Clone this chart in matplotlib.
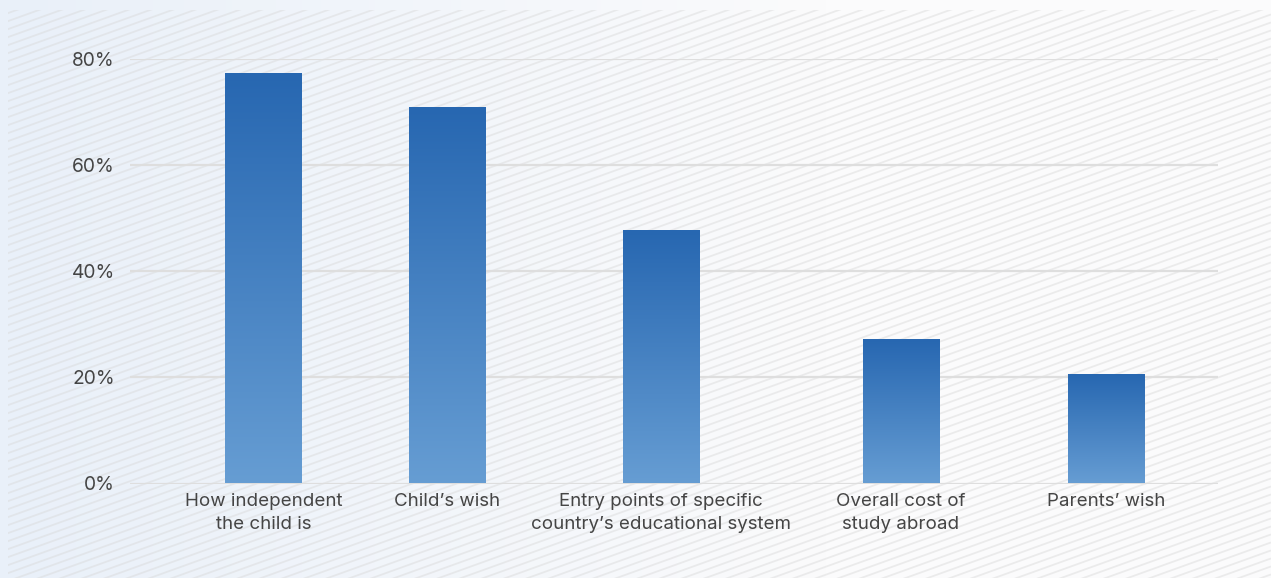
import numpy as np
import matplotlib.pyplot as plt
from matplotlib.colors import LinearSegmentedColormap
from matplotlib.patches import Rectangle

plt.rcParams['font.family'] = ['Inter', 'DejaVu Sans']

# Survey data
categories = [
    "How independent\nthe child is",
    "Child\u2019s wish",
    "Entry points of specific\ncountry\u2019s educational system",
    "Overall cost of\nstudy abroad",
    "Parents\u2019 wish",
]
values = [77.2, 70.8, 47.6, 27.0, 20.4]
y_ticks = [0, 20, 40, 60, 80]
y_tick_labels = ["0%", "20%", "40%", "60%", "80%"]

# Layout (x in axis units spanning the plotting width)
bar_centers = [133.5, 317.5, 531, 771, 976.5]
bar_width = 77
x_span = 1088

W, H = 1271, 578
fig = plt.figure(figsize=(W / 100, H / 100), dpi=100)

# Background: soft blue-to-white wash with fine diagonal stripes
bg = fig.add_axes([0, 0, 1, 1])
bg.axis('off')
xs = np.linspace(0, 1, 400)
grad = np.clip(xs / 0.65, 0, 1)
c0 = np.array([233, 240, 249]) / 255
c1 = np.array([251, 251, 252]) / 255
img = (c0[None, :] * (1 - grad[:, None]) + c1[None, :] * grad[:, None])[None, :, :]
bg.imshow(img, extent=[0, W, H, 0], aspect='auto', zorder=0)

clip = Rectangle((8, 10), W, H, transform=bg.transData, facecolor='none', edgecolor='none')
bg.add_patch(clip)
slope = 0.36
spacing = 8.0
for b in np.arange(-slope * W, H + 20, spacing):
    x0, x1 = 0, W
    ln, = bg.plot([x0, x1], [b + slope * (W - x0), b], color='#d8d8d8', lw=1.3,
                  alpha=0.45, solid_capstyle='butt', zorder=1)
    ln.set_clip_path(clip)
bg.set_xlim(0, W)
bg.set_ylim(H, 0)

# Main chart
y0_px, y80_px = 483.5, 59
ax = fig.add_axes([130 / W, (H - y0_px) / H, x_span / W, (y0_px - y80_px) / H])
ax.set_facecolor('none')

cmap = LinearSegmentedColormap.from_list('bar', ['#669dd3', '#2767b1'])
grad_v = np.linspace(0, 1, 256)[:, None]
for xc, v in zip(bar_centers, values):
    ax.imshow(grad_v, cmap=cmap, origin='lower', aspect='auto',
              extent=[xc - bar_width / 2, xc + bar_width / 2, 0, v], zorder=3)
ax.set_xlim(0, x_span)
ax.set_ylim(0, 80)

for t in y_ticks:
    ax.axhline(t, color='#dedede', lw=1.6, zorder=1)

for s in ax.spines.values():
    s.set_visible(False)

ax.set_yticks(y_ticks, y_tick_labels)
ax.set_xticks(bar_centers, categories)
ax.tick_params(axis='y', length=0, pad=11, labelsize=13.8, labelcolor='#454545')
ax.tick_params(axis='x', length=0, pad=7, labelsize=13.5, labelcolor='#454545')
for lab in ax.get_xticklabels():
    lab.set_linespacing(1.45)

fig.savefig('out.png', dpi=100)
